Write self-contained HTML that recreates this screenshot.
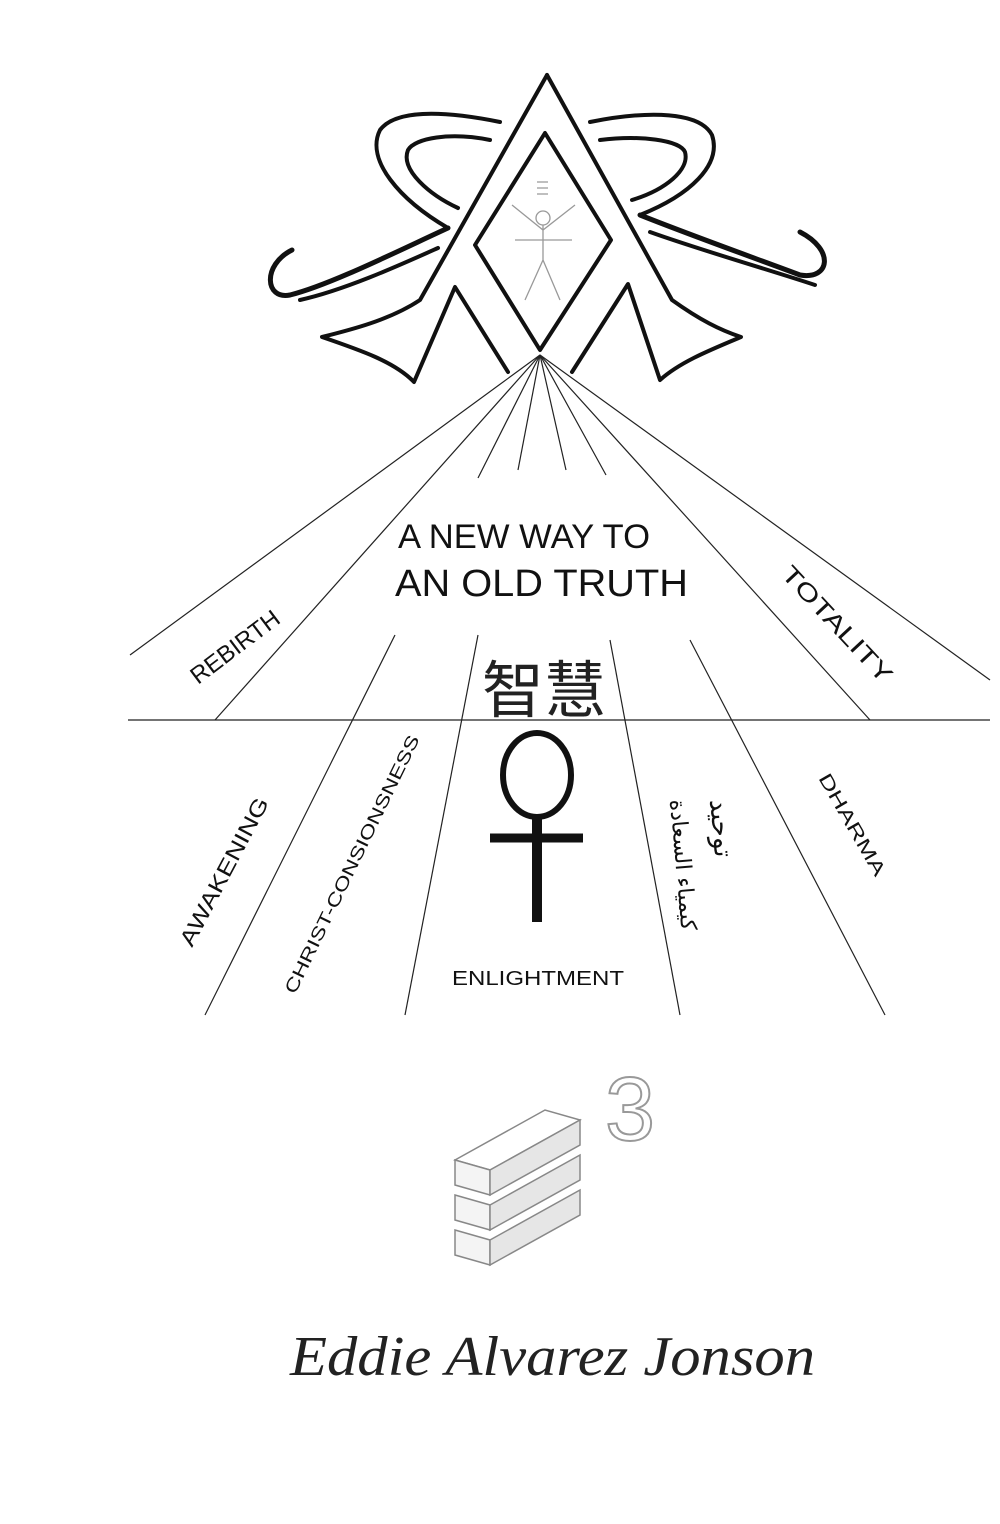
<!DOCTYPE html>
<html><head><meta charset="utf-8"><style>
html,body{margin:0;padding:0;background:#fff;}
svg{display:block}
</style></head><body>
<svg width="1000" height="1524" viewBox="0 0 1000 1524" xmlns="http://www.w3.org/2000/svg">
<g fill="none" stroke="#111" stroke-width="4" stroke-linejoin="round" stroke-linecap="round">
<path d="M500,122 C440,110 395,110 380,130 C365,160 400,200 448,228"/>
<path d="M490,140 C450,132 415,138 408,150 C400,170 430,195 458,208"/>
<path d="M590,122 C650,110 700,112 712,135 C722,165 690,195 640,215"/>
<path d="M600,140 C640,135 680,140 685,152 C690,170 665,190 632,200"/>
<path d="M448,228 C400,250 330,285 290,295 C265,300 262,265 292,250" stroke-width="5"/>
<path d="M640,215 C690,235 760,260 800,275 C830,280 835,250 800,232" stroke-width="5"/>
<path d="M438,248 C400,265 345,290 300,300"/>
<path d="M650,232 C700,250 770,270 815,285"/>
<path d="M547,75 L420,300 C390,320 350,330 322,337 C360,350 395,362 414,382 L455,287 L508,372"/>
<path d="M547,75 L672,300 C700,320 720,330 741,337 C710,350 680,362 660,380 L628,284 L572,372"/>
<path d="M545,133 L475,245 L540,350 L611,240 Z"/>
</g>
<g fill="none" stroke="#999" stroke-width="1.3">
<circle cx="543" cy="218" r="7"/>
<path d="M512,205 L543,230 L575,205 M543,225 L543,260 M543,260 L525,300 M543,260 L560,300 M515,240 L572,240 M537,182 L548,182 M537,188 L548,188 M537,194 L548,194"/>
</g>
<g stroke="#222" stroke-width="1.2" fill="none">
<line x1="540" y1="355" x2="130" y2="655"/>
<line x1="540" y1="355" x2="215" y2="720"/>
<line x1="540" y1="355" x2="478" y2="478"/>
<line x1="540" y1="355" x2="518" y2="470"/>
<line x1="540" y1="355" x2="566" y2="470"/>
<line x1="540" y1="355" x2="606" y2="475"/>
<line x1="540" y1="355" x2="870" y2="720"/>
<line x1="540" y1="355" x2="990" y2="680"/>
<line x1="128" y1="720" x2="990" y2="720"/>
<line x1="395" y1="635" x2="205" y2="1015"/>
<line x1="478" y1="635" x2="405" y2="1015"/>
<line x1="610" y1="640" x2="680" y2="1015"/>
<line x1="690" y1="640" x2="885" y2="1015"/>
</g>
<g font-family="Liberation Sans, sans-serif" fill="#111">
<text x="398" y="548" font-size="34" textLength="252" lengthAdjust="spacingAndGlyphs">A NEW WAY TO</text>
<text x="395" y="596" font-size="38" textLength="293" lengthAdjust="spacingAndGlyphs">AN OLD TRUTH</text>
<text x="0" y="0" font-size="24" transform="translate(198,685) rotate(-37)">REBIRTH</text>
<text x="0" y="0" font-size="24" transform="translate(780,575) rotate(47)" textLength="150" lengthAdjust="spacingAndGlyphs">TOTALITY</text>
<text x="0" y="0" font-size="22" transform="translate(192,948) rotate(-62)" textLength="165" lengthAdjust="spacingAndGlyphs">AWAKENING</text>
<text x="0" y="0" font-size="18" transform="translate(295,995) rotate(-64)" textLength="285" lengthAdjust="spacingAndGlyphs">CHRIST-CONSIONSNESS</text>
<text x="0" y="0" font-size="19" transform="translate(818,778) rotate(60)" textLength="115" lengthAdjust="spacingAndGlyphs">DHARMA</text>
<text x="452" y="985" font-size="20" textLength="172" lengthAdjust="spacingAndGlyphs">ENLIGHTMENT</text>
<text x="0" y="0" font-size="26" font-family="DejaVu Sans, sans-serif" transform="translate(710,800) rotate(85)">توحيد</text>
<text x="0" y="0" font-size="22" font-family="DejaVu Sans, sans-serif" transform="translate(670,800) rotate(85)">كيمياء السعادة</text>
</g>
<text x="482" y="712" font-size="62" font-family="Noto Sans CJK SC, sans-serif" fill="#222">智慧</text>
<g stroke="#111" fill="none">
<ellipse cx="537" cy="775" rx="34" ry="42" stroke-width="6"/>
<path d="M537,815 L537,922" stroke-width="10"/>
<path d="M490,838 L583,838" stroke-width="9"/>
</g>
<g stroke="#888" stroke-width="1.5" fill="#f4f4f4">
<path d="M455,1160 L545,1110 L580,1120 L490,1170 Z" fill="#fff"/>
<path d="M455,1160 L490,1170 L490,1195 L455,1185 Z"/>
<path d="M490,1170 L580,1120 L580,1145 L490,1195 Z" fill="#e6e6e6"/>
<path d="M455,1195 L490,1205 L490,1230 L455,1220 Z"/>
<path d="M490,1205 L580,1155 L580,1180 L490,1230 Z" fill="#e6e6e6"/>
<path d="M455,1230 L490,1240 L490,1265 L455,1255 Z"/>
<path d="M490,1240 L580,1190 L580,1215 L490,1265 Z" fill="#e6e6e6"/>
</g>
<text x="605" y="1140" font-size="90" font-family="Liberation Sans, sans-serif" fill="#fff" stroke="#999" stroke-width="2">3</text>
<text x="290" y="1375" font-size="56" font-style="italic" font-family="Liberation Serif, serif" fill="#222" textLength="525" lengthAdjust="spacingAndGlyphs">Eddie Alvarez Jonson</text>
</svg>
</body></html>
